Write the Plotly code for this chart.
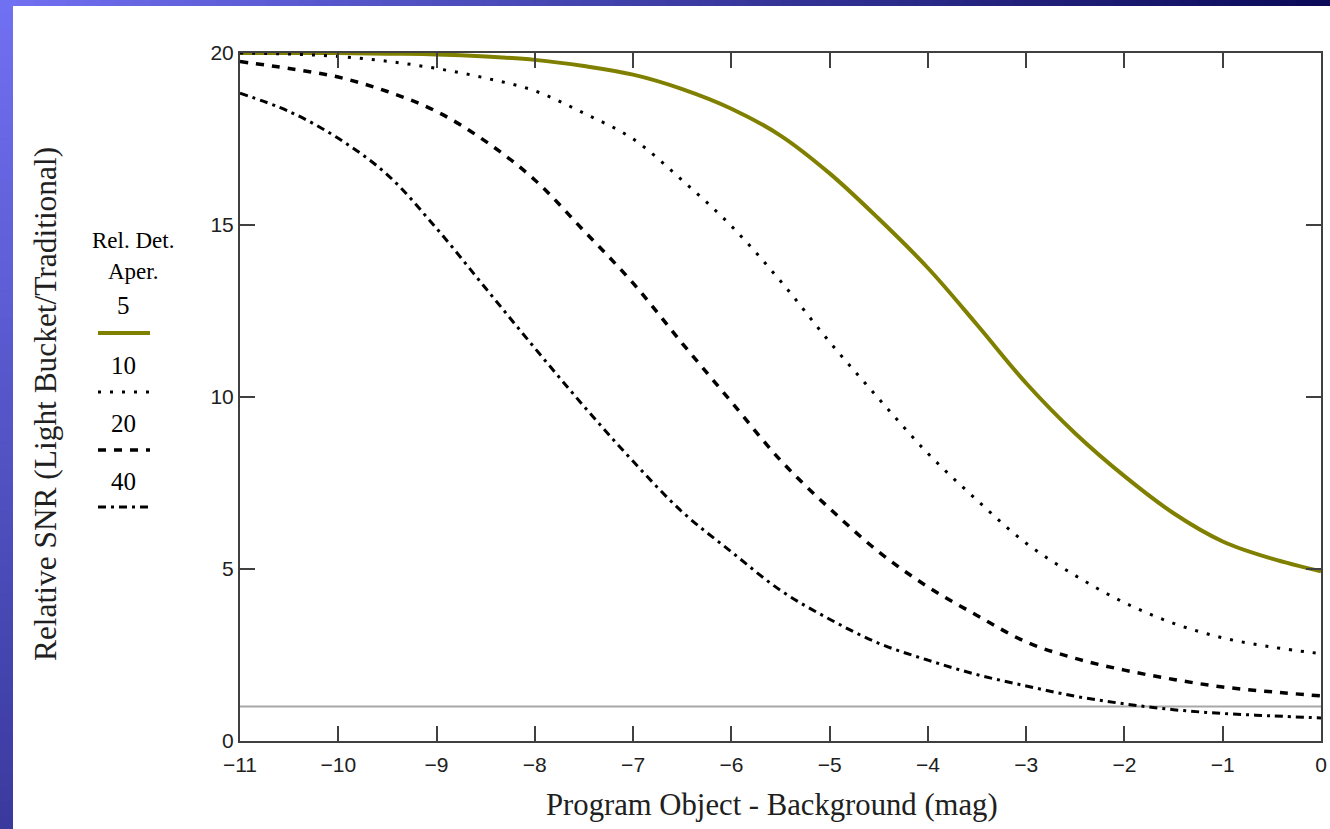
import plotly.graph_objects as go

# ---- data ----
x_mag = [-11, -10.5, -10, -9.5, -9, -8.5, -8, -7.5, -7, -6.5, -6, -5.5, -5,
         -4.5, -4, -3.5, -3, -2.5, -2, -1.5, -1, -0.5, 0]

snr_5 = [20.0, 20.0, 20.0, 19.98, 19.96, 19.9, 19.8, 19.62, 19.37, 18.95, 18.38,
         17.6, 16.5, 15.18, 13.75, 12.1, 10.4, 8.94, 7.7, 6.62, 5.8, 5.3, 4.93]
snr_10 = [20.0, 19.97, 19.9, 19.76, 19.55, 19.27, 18.9, 18.25, 17.5, 16.3, 14.97,
          13.37, 11.6, 9.95, 8.36, 7.0, 5.75, 4.81, 4.02, 3.42, 3.0, 2.73, 2.54]
snr_20 = [19.75, 19.55, 19.3, 18.88, 18.3, 17.43, 16.31, 14.83, 13.31, 11.56, 9.86,
          8.16, 6.76, 5.5, 4.48, 3.65, 2.88, 2.4, 2.06, 1.79, 1.57, 1.43, 1.31]
snr_40 = [18.83, 18.3, 17.52, 16.46, 14.9, 13.16, 11.42, 9.73, 8.13, 6.66, 5.5,
          4.38, 3.54, 2.84, 2.35, 1.93, 1.6, 1.3, 1.08, 0.91, 0.8, 0.73, 0.67]

unity_level = 1
x_ticks = [-11, -10, -9, -8, -7, -6, -5, -4, -3, -2, -1, 0]
y_ticks = [0, 5, 10, 15, 20]
legend_title = ["Rel. Det.", "Aper."]
legend_labels = ["5", "10", "20", "40"]
x_title = "Program Object - Background (mag)"
y_title = "Relative SNR (Light Bucket/Traditional)"

# ---- layout geometry (pixels) ----
W, H = 1330, 829
ML, MR, MT, MB = 240, 9, 53, 88
PW, PH = W - ML - MR, H - MT - MB


def px2x(px):
    return (px - ML) / PW


def py2y(py):
    return (H - MB - py) / PH


OLIVE = "#808000"
styles = [
    dict(color=OLIVE, width=4, dash="solid"),
    dict(color="black", width=3, dash="3px,9px"),
    dict(color="black", width=3.5, dash="8px,8px"),
    dict(color="black", width=3, dash="8px,5px,3px,5px"),
]

fig = go.Figure()
fig.add_trace(go.Scatter(x=[x_mag[0], x_mag[-1]], y=[unity_level, unity_level],
                         mode="lines", line=dict(color="#a8a8a8", width=2),
                         showlegend=False, hoverinfo="skip"))
for ys, st, lab in zip([snr_5, snr_10, snr_20, snr_40], styles, legend_labels):
    fig.add_trace(go.Scatter(x=x_mag, y=ys, mode="lines", line=dict(shape="spline", **st),
                             name=lab, showlegend=False))

shapes = []


def lerp(c1, c2, t):
    return "rgb(%d,%d,%d)" % tuple(round(a + (b - a) * t) for a, b in zip(c1, c2))


# top gradient bar
n = 80
c_left, c_right = (112, 112, 242), (10, 10, 88)
for i in range(n):
    x0 = W * i / n
    x1 = W * (i + 1) / n + 1
    shapes.append(dict(type="rect", xref="paper", yref="paper",
                       x0=px2x(x0), x1=px2x(x1), y0=py2y(6), y1=py2y(0),
                       fillcolor=lerp(c_left, c_right, i / (n - 1)), line=dict(width=0), layer="below"))
# left gradient bar
m = 60
c_top, c_bot = (112, 112, 242), (58, 58, 158)
for i in range(m):
    y0 = H * i / m
    y1 = H * (i + 1) / m + 1
    shapes.append(dict(type="rect", xref="paper", yref="paper",
                       x0=px2x(0), x1=px2x(13), y0=py2y(y1), y1=py2y(y0),
                       fillcolor=lerp(c_top, c_bot, i / (m - 1)), line=dict(width=0), layer="below"))

# legend samples
sample_y = [333, 392, 450, 507]
for sy, st in zip(sample_y, styles):
    shapes.append(dict(type="line", xref="paper", yref="paper",
                       x0=px2x(98), x1=px2x(150), y0=py2y(sy), y1=py2y(sy),
                       line=st))

annotations = []
serif = "Liberation Serif"
for txt, ty in zip(legend_title, [240, 271]):
    annotations.append(dict(text=txt, xref="paper", yref="paper", x=px2x(133), y=py2y(ty),
                            showarrow=False, font=dict(family=serif, size=23, color="black"),
                            xanchor="center", yanchor="middle"))
for txt, ty in zip(legend_labels, [305, 365, 423, 481]):
    annotations.append(dict(text=txt, xref="paper", yref="paper", x=px2x(123), y=py2y(ty),
                            showarrow=False, font=dict(family=serif, size=25, color="black"),
                            xanchor="center", yanchor="middle"))
annotations.append(dict(text=x_title, xref="paper", yref="paper", x=px2x(772), y=py2y(805),
                        showarrow=False, font=dict(family=serif, size=30.7, color="#202020"),
                        xanchor="center", yanchor="middle"))
annotations.append(dict(text=y_title, xref="paper", yref="paper", x=px2x(45), y=py2y(404),
                        showarrow=False, textangle=-90,
                        font=dict(family=serif, size=31.4, color="#202020"),
                        xanchor="center", yanchor="middle"))

axis_common = dict(showline=True, linecolor="#404040", linewidth=2, mirror="ticks",
                   ticks="inside", ticklen=15, tickwidth=2, tickcolor="#404040",
                   showgrid=False, zeroline=False, automargin=False,
                   tickfont=dict(family="Liberation Sans", size=21, color="#202020"))

fig.update_layout(
    width=W, height=H,
    margin=dict(l=ML, r=MR, t=MT, b=MB),
    paper_bgcolor="white", plot_bgcolor="white",
    shapes=shapes, annotations=annotations,
    xaxis=dict(range=[-11, 0], tickvals=x_ticks, ticklabelstandoff=4, **axis_common),
    yaxis=dict(range=[0, 20], tickvals=y_ticks, **axis_common),
)

fig.write_html("out.html", config={"displayModeBar": False},
               post_script="document.body.style.margin='0';document.body.style.overflow='hidden';")
